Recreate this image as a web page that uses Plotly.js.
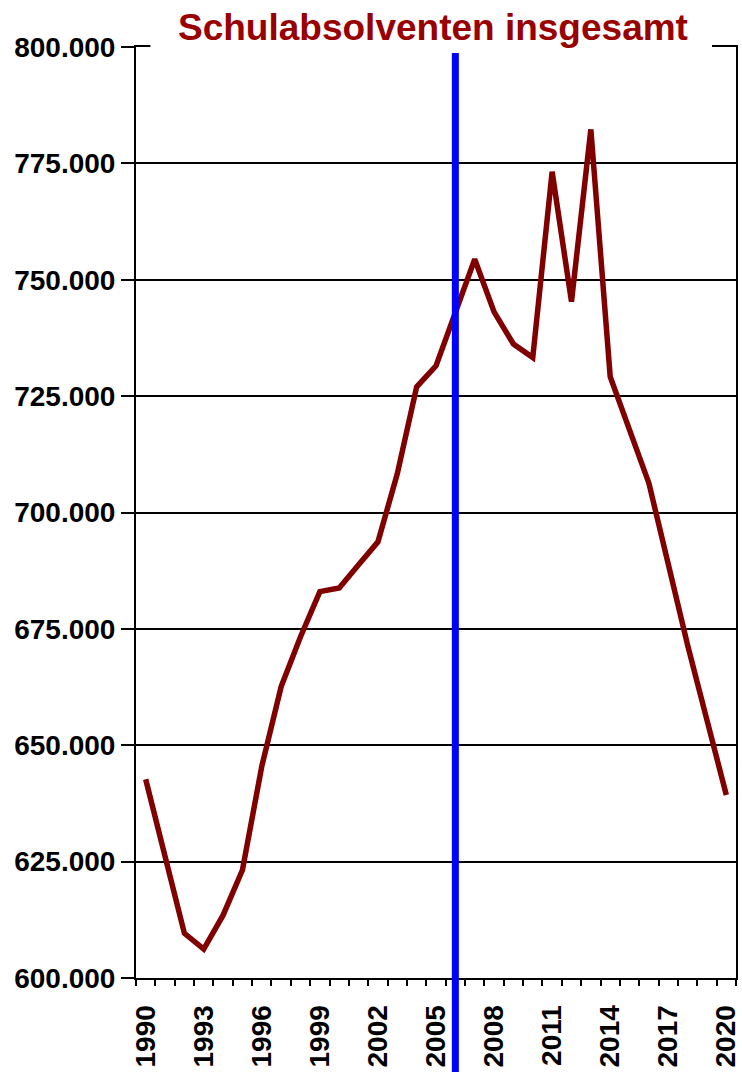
<!DOCTYPE html>
<html>
<head>
<meta charset="utf-8">
<script src="https://cdn.plot.ly/plotly-3.0.1.min.js"></script>
<style>
html,body{margin:0;padding:0;background:#fff;}
#chart{width:742px;height:1072px;}
</style>
</head>
<body>
<div id="chart"></div>
<script>
const years = [1990,1991,1992,1993,1994,1995,1996,1997,1998,1999,2000,2001,2002,2003,2004,2005,2006,2007,2008,2009,2010,2011,2012,2013,2014,2015,2016,2017,2018,2019,2020];
const absolventen = [642700,626400,609600,606200,613500,623200,645500,662600,673300,683000,683800,688800,693700,708300,727000,731500,743000,754400,743100,736200,733300,773200,745300,782300,729200,717600,706300,688900,671500,655400,639300];
const tickYears = [1990,1993,1996,1999,2002,2005,2008,2011,2014,2017,2020];
const tickLabels = tickYears.map(String);
const markerYear = 2006.0;
const titleText = "Schulabsolventen insgesamt";

const font = "Arial, 'Liberation Sans', sans-serif";

const trace = {
  x: years, y: absolventen, type: 'scatter', mode: 'lines',
  line: {color: '#800000', width: 5.5}, hoverinfo: 'skip'
};

const layout = {
  width: 742, height: 1072,
  margin: {l: 136, r: 6, t: 47, b: 94, pad: 0},
  paper_bgcolor: '#ffffff', plot_bgcolor: '#ffffff',
  separators: ',.',
  showlegend: false,
  font: {family: font, size: 28, color: '#000'},
  xaxis: {
    range: [1989.5, 2020.5],
    tickmode: 'array', tickvals: tickYears, ticktext: tickLabels,
    tickangle: -90,
    ticks: 'outside', ticklen: 14, tickcolor: 'rgba(0,0,0,0)',
    tickfont: {family: font, size: 28, color: '#000', weight: 'bold'},
    showgrid: false, zeroline: false,
    showline: true, linecolor: '#000', linewidth: 2, mirror: true,
    minor: {tick0: 1989.5, dtick: 1, ticks: 'outside', ticklen: 6, tickwidth: 2, tickcolor: '#000', showgrid: false}
  },
  yaxis: {
    range: [600000, 800000], dtick: 25000, tick0: 600000,
    tickformat: ',.0f',
    ticks: 'outside', ticklen: 13, tickwidth: 2, tickcolor: '#000',
    tickfont: {family: font, size: 28, color: '#000', weight: 'bold'},
    showgrid: true, gridcolor: '#000', gridwidth: 2,
    zeroline: false,
    showline: true, linecolor: '#000', linewidth: 2, mirror: true
  },
  shapes: [
    {type: 'line', xref: 'x', yref: 'paper', x0: markerYear, x1: markerYear, y0: -0.11, y1: 1,
     line: {color: '#0000ff', width: 7}, layer: 'above'},
    {type: 'rect', xref: 'paper', yref: 'paper', x0: 0.024, x1: 0.96, y0: 0.9936, y1: 1.06,
     fillcolor: '#ffffff', line: {width: 0}, layer: 'above'}
  ],
  annotations: [
    {text: titleText, xref: 'paper', yref: 'paper', x: 0.495, y: 1.021,
     xanchor: 'center', yanchor: 'middle', showarrow: false,
     font: {family: font, size: 37, color: '#990000', weight: 'bold'}}
  ]
};

Plotly.newPlot('chart', [trace], layout, {staticPlot: true, displayModeBar: false});
</script>
</body>
</html>
